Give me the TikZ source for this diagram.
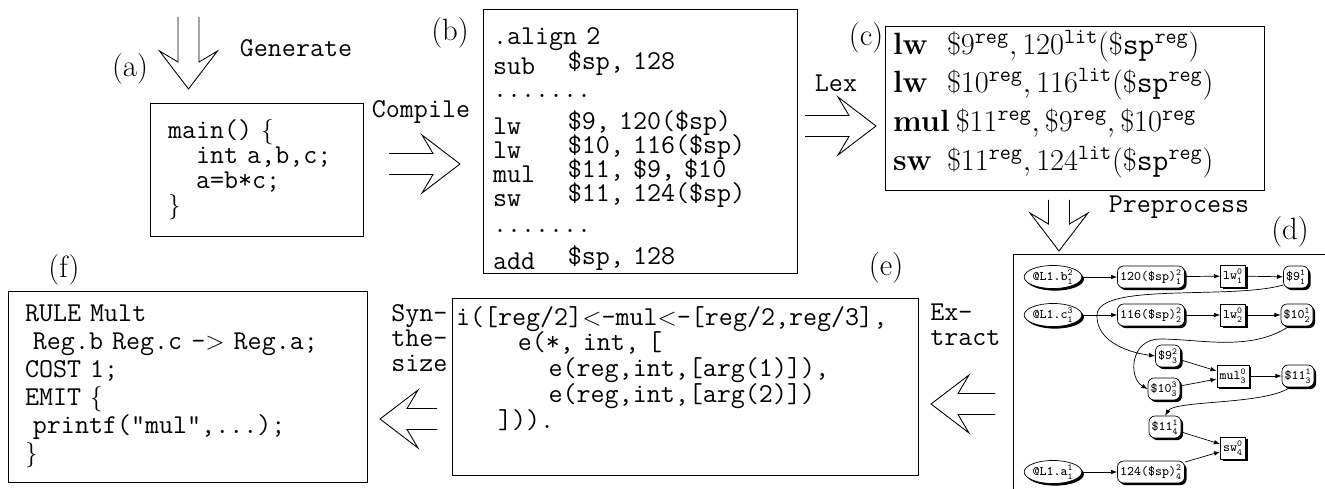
\documentclass[tikz,border=0pt]{standalone}
\usepackage{fontspec}
\usetikzlibrary{arrows.meta,shapes.geometric,shadows}

\newcommand{\codefont}[2]{\ttfamily\fontsize{#1}{#2}\selectfont
  \lineskiplimit=-50pt\spaceskip=0.525em\xspaceskip=0.525em\relax}
\newcommand{\lexfont}{\fontsize{17.5}{22}\selectfont\lineskiplimit=-50pt\relax}
\newcommand{\asmln}[2]{\makebox[2.75em][l]{#1}\raisebox{2.8pt}{#2}}
\newcommand{\indn}[1]{\hspace*{#1\fontdimen2\font}}
\newcommand{\gv}[3]{#1$^{\mathtt{#2}}_{\mathtt{#3}}$}
\newcommand{\sreg}{^{\mathtt{reg}}}
\newcommand{\slit}{^{\mathtt{lit}}}

\begin{document}
\begin{tikzpicture}[x=0.02cm, y=-0.02cm,
  codebox/.style={draw, line width=0.5pt, rectangle, inner ysep=0pt, align=left},
  frame/.style={draw, line width=0.5pt},
  tag/.style={inner sep=0pt, font=\fontsize{17.5}{20}\selectfont},
  lbl/.style={inner sep=0pt, align=left, font=\codefont{15.5}{14.2}},
  gnode/.style={draw, line width=0.4pt, fill=white,
                font=\ttfamily\fontsize{7.5}{8}\selectfont,
                minimum height=0.44cm, inner xsep=1.5pt, inner ysep=0.5pt,
                drop shadow={shadow xshift=1.2pt, shadow yshift=-1.2pt,
                             fill=black, opacity=1}},
  lnode/.style={gnode, ellipse, inner xsep=0pt},
  onode/.style={gnode, rectangle, rounded corners=3.5pt},
  inode/.style={gnode, rectangle},
  garr/.style={-{Latex[length=3.5pt,width=2.6pt]}, line width=0.4pt},
  pics/bigarrow/.style={code={
    \draw[line width=0.5pt] (0,-10.5) -- (#1,-10.5) -- (#1-11,-29) -- (#1+27,0)
      -- (#1-11,29) -- (#1,10.5) -- (0,10.5);}}
]
\useasboundingbox (0,0) rectangle (1325,489);
\clip (0,0) rectangle (1325,489);

%% ── boxes ───────────────────────────────────────────────────────────────
\node[codebox, minimum width=4.26cm, minimum height=2.66cm, inner xsep=0.36cm,
      text width=3.54cm, font=\codefont{15.5}{14.2}]
      (src) at (256.5,169.5)
      {main() $\{$\\
       \indn{2}int a,b,c;\\
       \indn{2}a=b*c;\\
       $\}$};

\node[codebox, minimum width=6.28cm, minimum height=5.28cm, inner xsep=0.2cm,
      text width=5.88cm, font=\codefont{15.5}{13.5}]
      (asm) at (640,141)
      {\rule{0pt}{19pt}.align 2\\[3.4pt]
       \asmln{sub}{\$sp, 128}\\[-0.6pt]
       .......\\[8pt]
       \asmln{lw}{\$9, 120(\$sp)}\\
       \asmln{lw}{\$10, 116(\$sp)}\\
       \asmln{mul}{\$11, \$9, \$10}\\
       \asmln{sw}{\$11, 124(\$sp)}\\[1.7pt]
       .......\\[7.4pt]
       \asmln{add}{\$sp, 128}};

\node[codebox, minimum width=7.58cm, minimum height=3.28cm, inner xsep=0.16cm,
      text width=7.26cm, font=\lexfont]
      (lex) at (1074.5,108)
      {\makebox[1.08cm][l]{\textbf{lw}}$\$9\sreg, 120\slit(\$\mathtt{sp}\sreg)$\\
       \makebox[1.08cm][l]{\textbf{lw}}$\$10\sreg, 116\slit(\$\mathtt{sp}\sreg)$\\
       \textbf{mul}\hspace{0.12cm}$\$11\sreg, \$9\sreg, \$10\sreg$\\
       \makebox[1.08cm][l]{\textbf{sw}}$\$11\sreg, 124\slit(\$\mathtt{sp}\sreg)$\rule[-9pt]{0pt}{0pt}};

\node[codebox, minimum width=9.32cm, minimum height=3.54cm, inner xsep=0.08cm,
      text width=9.16cm, font=\codefont{15.5}{14.65}]
      (pat) at (685,386.5)
      {i([reg/2]$<$-mul$<$-[reg/2,reg/3],\\
       \indn{4.4}e(*, int, [\\
       \indn{6.6}e(reg,int,[arg(1)]),\\
       \indn{6.6}e(reg,int,[arg(2)])\\
       \indn{3}])).\rule[-22pt]{0pt}{0pt}};

\node[codebox, minimum width=7.18cm, minimum height=3.82cm, inner xsep=0.34cm,
      text width=6.5cm, font=\codefont{15.5}{15.9}]
      (rule) at (187.5,386.5)
      {RULE Mult\\
       \hspace*{4.5pt}Reg.b Reg.c -$>$ Reg.a;\\
       COST 1;\\
       EMIT $\{$\\
       \hspace*{4.5pt}printf("mul",...);\\
       $\}$};

\node[frame, anchor=north west, minimum width=6.8cm, minimum height=5cm]
      (dbox) at (1013,254) {};

%% ── tags and step labels ────────────────────────────────────────────────
\node[tag] (ta) at (130,69)   {(a)};
\node[tag] (tb) at (450,33)   {(b)};
\node[tag] (tc) at (866,38)   {(c)};
\node[tag] (td) at (1290,232) {(d)};
\node[tag] (te) at (886,268)  {(e)};
\node[tag] (tf) at (64,270)   {(f)};

\node[lbl] (gen)  at (296,48)   {Generate};
\node[lbl] (comp) at (421,112)  {Compile};
\node[lbl] (lx)   at (836,83)   {Lex};
\node[lbl] (prep) at (1179,207) {Preprocess};
\node[lbl, anchor=west] (ext) at (930,324.5) {Ex-\\tract};
\node[lbl, anchor=west] (syn) at (391,338)   {Syn-\\the-\\size};

%% ── step arrows ─────────────────────────────────────────────────────────
\pic[rotate=-90] at (188.5,17) {bigarrow=45};
\pic at (389,164)              {bigarrow=44};
\pic at (805,126)              {bigarrow=44};
\pic[rotate=-90] at (1059,200) {bigarrow=24};
\pic[rotate=180] at (995,404)  {bigarrow=37};
\pic[rotate=180] at (437,419)  {bigarrow=30};

%% ── dag nodes ───────────────────────────────────────────────────────────
\node[lnode] (lb) at (1053,277) {\gv{@L1.b}{2}{1}};
\node[lnode] (lc) at (1053,315) {\gv{@L1.c}{3}{1}};
\node[lnode] (la) at (1053,472) {\gv{@L1.a}{1}{1}};

\node[onode] (mta) at (1151,277) {\gv{120(\$sp)}{2}{1}};
\node[onode] (mtb) at (1151,315) {\gv{116(\$sp)}{2}{2}};
\node[onode] (mtc) at (1151,472) {\gv{124(\$sp)}{2}{4}};

\node[inode] (lwa) at (1233,276) {\gv{lw}{0}{1}};
\node[inode] (lwb) at (1233,315) {\gv{lw}{0}{2}};
\node[inode] (mul) at (1233,376) {\gv{mul}{0}{3}};
\node[inode] (sw)  at (1233,448) {\gv{sw}{0}{4}};

\node[onode] (rna) at (1296,277) {\gv{\$9}{1}{1}};
\node[onode] (rta) at (1297,315) {\gv{\$10}{1}{2}};
\node[onode] (rnb) at (1168,356) {\gv{\$9}{2}{3}};
\node[onode] (rtb) at (1164,389) {\gv{\$10}{3}{3}};
\node[onode] (rea) at (1298,376) {\gv{\$11}{1}{3}};
\node[onode] (reb) at (1165,427) {\gv{\$11}{1}{4}};

%% ── dag edges ───────────────────────────────────────────────────────────
\draw[garr] (lb)  -- (mta);
\draw[garr] (mta) -- (lwa);
\draw[garr] (lwa) -- (rna);
\draw[garr] (lc)  -- (mtb);
\draw[garr] (mtb) -- (lwb);
\draw[garr] (lwb) -- (rta);
\draw[garr] (la)  -- (mtc);
\draw[garr] (rnb) -- (mul);
\draw[garr] (rtb) -- (mul);
\draw[garr] (mul) -- (rea);
\draw[garr] (reb) -- (sw);
\draw[garr] (mtc) -- (sw);

% value moves
\draw[garr] (rna.212) .. controls (1230,300) and (1098,282) .. (1097,315)
            .. controls (1096,340) and (1125,352) .. (rnb.west);
\draw[garr] (rta.235) .. controls (1250,352) and (1200,339) .. (1160,339)
            .. controls (1130,339) and (1128,378) .. (rtb.west);
\draw[garr] (rea.235) .. controls (1265,405) and (1175,400) .. (reb.north);

\end{tikzpicture}
\end{document}
